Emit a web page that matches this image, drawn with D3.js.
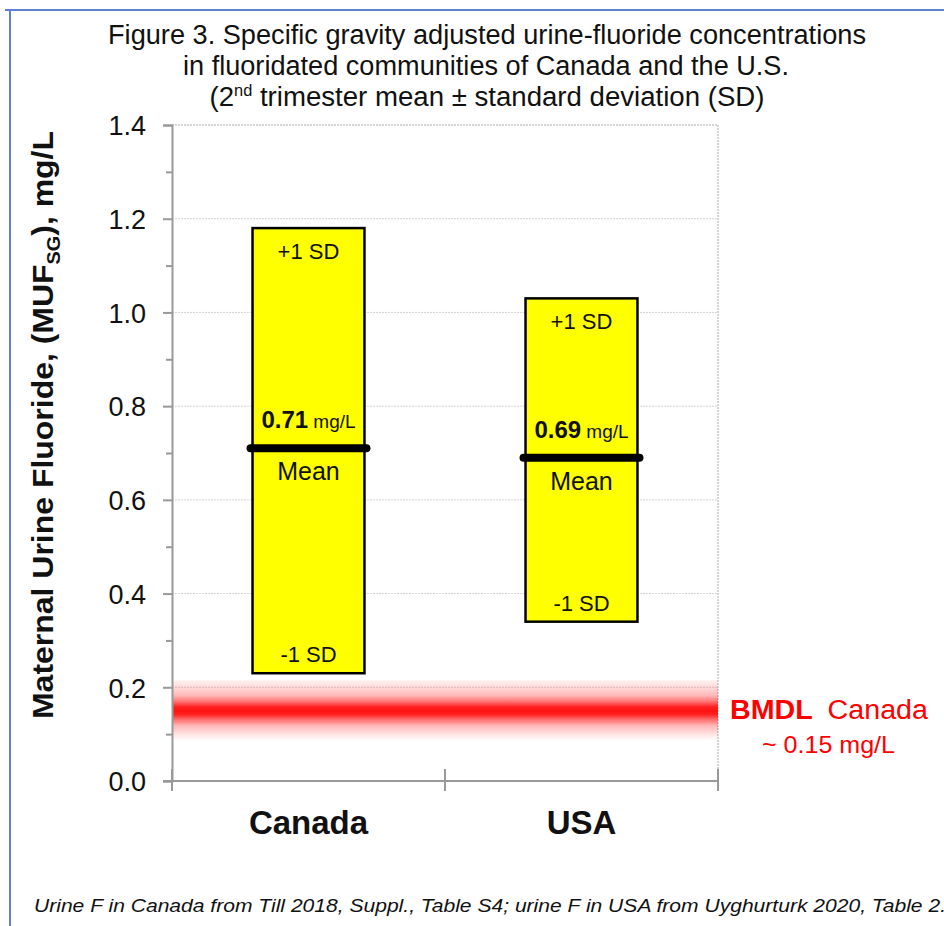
<!DOCTYPE html>
<html>
<head>
<meta charset="utf-8">
<script src="https://cdn.jsdelivr.net/npm/d3@7"></script>
<style>
  html, body { margin: 0; padding: 0; background: #fff; }
  svg { display: block; }
</style>
</head>
<body>
<svg id="chart" width="944" height="926"></svg>
<script>
// Specific-gravity adjusted maternal urine fluoride, 2nd trimester mean ± SD
const categories = ["Canada", "USA"];
const means = [0.71, 0.69];
const lowerSD = [0.23, 0.34];   // mean − 1 SD
const upperSD = [1.18, 1.03];   // mean + 1 SD
const yTicks = [0.0, 0.2, 0.4, 0.6, 0.8, 1.0, 1.2, 1.4];
const yMinorTicks = [0.1, 0.3, 0.5, 0.7, 0.9, 1.1, 1.3];
const bmdlValue = 0.15;
const bmdlBand = [0.085, 0.215];

const svg = d3.select("#chart");
const FONT = "'Liberation Sans', Arial, sans-serif";

const plot = { left: 172, right: 718, top: 125, bottom: 781 };

const x = d3.scaleBand().domain(categories).range([plot.left, plot.right]).paddingInner(0.59).paddingOuter(0.295);
const y = d3.scaleLinear().domain([0, 1.4]).range([plot.bottom, plot.top]);

// Frame
svg.append("path")
  .attr("d", `M5,10 H944 M10,10 V926`)
  .attr("fill", "none").attr("stroke", "#5b80d8").attr("stroke-width", 2);

// Title (condensed lettering)
const title = svg.append("g").attr("font-family", FONT).attr("font-size", 27).attr("fill", "#111").attr("text-anchor", "middle");
title.append("text").attr("x", 487).attr("y", 44)
  .attr("textLength", 758).attr("lengthAdjust", "spacingAndGlyphs")
  .text("Figure 3. Specific gravity adjusted urine-fluoride concentrations");
title.append("text").attr("x", 486).attr("y", 75)
  .attr("textLength", 606).attr("lengthAdjust", "spacingAndGlyphs")
  .text("in fluoridated communities of Canada and the U.S.");
const t3 = title.append("text").attr("x", 487).attr("y", 106)
  .attr("textLength", 555).attr("lengthAdjust", "spacingAndGlyphs");
t3.append("tspan").text("(2");
t3.append("tspan").attr("font-size", 16).attr("dy", -10).text("nd");
t3.append("tspan").attr("dy", 10).text(" trimester mean ± standard deviation (SD)");

// Grid lines (dotted)
svg.append("g")
  .selectAll("line").data(yTicks.filter(d => d > 0)).join("line")
  .attr("x1", plot.left).attr("x2", plot.right)
  .attr("y1", d => y(d)).attr("y2", d => y(d))
  .attr("stroke", d => d === 1.4 ? "#aaa" : "#d4d4d4").attr("stroke-width", 1)
  .attr("stroke-dasharray", "2,1");
svg.append("line")
  .attr("x1", plot.right).attr("x2", plot.right).attr("y1", plot.top).attr("y2", plot.bottom)
  .attr("stroke", "#aaa").attr("stroke-dasharray", "2,1");

// BMDL band (soft red gradient centred on 0.15 mg/L)
const defs = svg.append("defs");
const grad = defs.append("linearGradient").attr("id", "bmdlGrad").attr("x1", 0).attr("x2", 0).attr("y1", 0).attr("y2", 1);
[[0, 0.06], [0.1, 0.14], [0.25, 0.3], [0.35, 0.6], [0.44, 0.95], [0.5, 1], [0.56, 0.95], [0.65, 0.6], [0.75, 0.3], [0.9, 0.1], [1, 0]]
  .forEach(([o, a]) => grad.append("stop").attr("offset", o).attr("stop-color", "#ff1414").attr("stop-opacity", a));
svg.append("rect")
  .attr("x", plot.left + 1).attr("width", plot.right - plot.left - 1)
  .attr("y", y(bmdlBand[1])).attr("height", y(bmdlBand[0]) - y(bmdlBand[1]))
  .attr("fill", "url(#bmdlGrad)");

// Faint 0.2 grid line over the band
svg.append("line").attr("x1", plot.left).attr("x2", plot.right).attr("y1", y(0.2)).attr("y2", y(0.2))
  .attr("stroke", "#e6c0c0").attr("stroke-dasharray", "2,1");

// Y axis
const yAxis = svg.append("g").attr("transform", `translate(${plot.left},0)`)
  .call(d3.axisLeft(y).tickValues(yTicks).tickFormat(d3.format(".1f")).tickSize(9).tickPadding(17));
yAxis.select(".domain").attr("stroke", "#999").attr("stroke-width", 2);
yAxis.selectAll(".tick line").attr("stroke", "#999").attr("stroke-width", 2);
yAxis.selectAll("text").attr("font-family", FONT).attr("font-size", 27).attr("fill", "#111").attr("dy", "0.36em");
svg.append("g").attr("transform", `translate(${plot.left},0)`)
  .call(d3.axisLeft(y).tickValues(yMinorTicks).tickFormat("").tickSize(6))
  .call(g => g.select(".domain").remove())
  .selectAll(".tick line").attr("stroke", "#999").attr("stroke-width", 2);

// X axis
const xAxis = svg.append("g").attr("transform", `translate(0,${plot.bottom})`);
xAxis.append("line").attr("x1", plot.left - 9).attr("x2", plot.right).attr("stroke", "#999").attr("stroke-width", 2);
const xBounds = [plot.left, (plot.left + plot.right) / 2, plot.right];
xAxis.selectAll(".xt").data(xBounds).join("line").attr("class", "xt")
  .attr("x1", d => d).attr("x2", d => d).attr("y1", -12).attr("y2", 10)
  .attr("stroke", "#999").attr("stroke-width", 2);
xAxis.selectAll(".xl").data(categories).join("text").attr("class", "xl")
  .attr("x", d => x(d) + x.bandwidth() / 2).attr("y", 53)
  .attr("text-anchor", "middle").attr("font-family", FONT).attr("font-weight", "bold")
  .attr("font-size", 33).attr("fill", "#111").text(d => d);

// Y axis title
const yt = svg.append("text")
  .attr("transform", `translate(53,425) rotate(-90)`)
  .attr("text-anchor", "middle").attr("font-family", FONT).attr("font-weight", "bold")
  .attr("font-size", 29).attr("fill", "#111")
  .attr("textLength", 588).attr("lengthAdjust", "spacingAndGlyphs");
yt.append("tspan").text("Maternal Urine Fluoride, (MUF");
yt.append("tspan").attr("font-size", 18).attr("dy", 7).text("SG");
yt.append("tspan").attr("dy", -7).text("), mg/L");

// Mean ± SD boxes
const data = categories.map((c, i) => ({ c, mean: means[i], lo: lowerSD[i], hi: upperSD[i] }));
const boxes = svg.append("g").selectAll("g").data(data).join("g");
boxes.append("rect")
  .attr("x", d => x(d.c)).attr("width", x.bandwidth())
  .attr("y", d => y(d.hi)).attr("height", d => y(d.lo) - y(d.hi))
  .attr("fill", "#ffff00").attr("stroke", "#000").attr("stroke-width", 2.5);
boxes.append("line")
  .attr("x1", d => x(d.c) - 2).attr("x2", d => x(d.c) + x.bandwidth() + 2)
  .attr("y1", d => y(d.mean)).attr("y2", d => y(d.mean))
  .attr("stroke", "#000").attr("stroke-width", 8).attr("stroke-linecap", "round");

const cx = d => x(d.c) + x.bandwidth() / 2;
boxes.append("text").attr("x", cx).attr("y", d => y(d.hi) + 31)
  .attr("text-anchor", "middle").attr("font-family", FONT).attr("font-size", 22).attr("fill", "#111")
  .text("+1 SD");
boxes.append("text").attr("x", cx).attr("y", d => y(d.lo) - 11)
  .attr("text-anchor", "middle").attr("font-family", FONT).attr("font-size", 22).attr("fill", "#111")
  .text("-1 SD");
boxes.append("text").attr("x", cx).attr("y", d => y(d.mean) + 32)
  .attr("text-anchor", "middle").attr("font-family", FONT).attr("font-size", 25).attr("fill", "#111")
  .text("Mean");
const valText = boxes.append("text").attr("x", cx).attr("y", d => y(d.mean) - 20)
  .attr("text-anchor", "middle").attr("font-family", FONT).attr("fill", "#111");
valText.append("tspan").attr("font-weight", "bold").attr("font-size", 24).text(d => d3.format(".2f")(d.mean));
valText.append("tspan").attr("font-size", 19).text(" mg/L");

// BMDL label
const bl = svg.append("text").attr("x", 730).attr("y", y(bmdlValue) + 8)
  .attr("font-family", FONT).attr("fill", "#ff0000").attr("font-size", 27)
  .attr("textLength", 198).attr("lengthAdjust", "spacingAndGlyphs");
bl.append("tspan").attr("font-weight", "bold").text("BMDL");
bl.append("tspan").attr("dx", 14).text("Canada");
svg.append("text").attr("x", 762).attr("y", y(bmdlValue) + 42)
  .attr("font-family", FONT).attr("fill", "#ff0000").attr("font-size", 24)
  .attr("textLength", 133).attr("lengthAdjust", "spacingAndGlyphs")
  .text("~ 0.15 mg/L");

// Source note
svg.append("text").attr("x", 34).attr("y", 912)
  .attr("font-family", FONT).attr("font-style", "italic").attr("font-size", 19).attr("fill", "#111")
  .attr("textLength", 912).attr("lengthAdjust", "spacingAndGlyphs")
  .text("Urine F in Canada from Till 2018, Suppl., Table S4; urine F in USA from Uyghurturk 2020, Table 2.");
</script>
</body>
</html>
